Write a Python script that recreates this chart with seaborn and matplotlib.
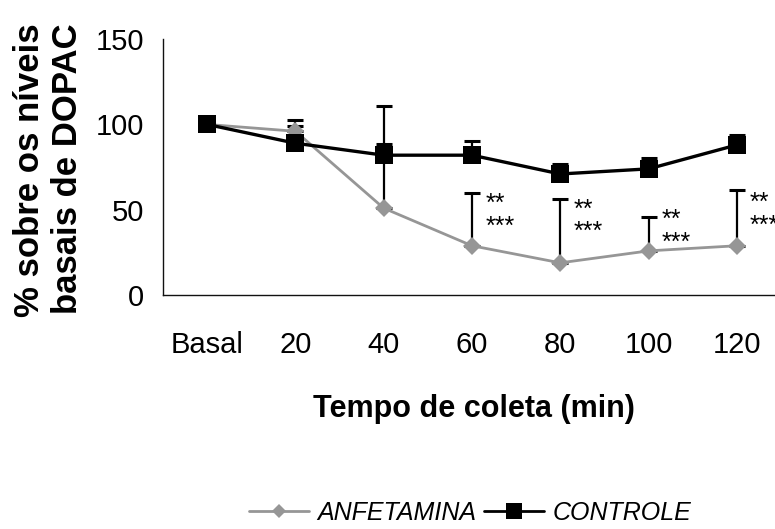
import numpy as np
import pandas as pd
import matplotlib
matplotlib.use("Agg")
import matplotlib.pyplot as plt
from matplotlib.lines import Line2D
import seaborn as sns

# ---- data ----
tempos = ["Basal", "20", "40", "60", "80", "100", "120"]
anfetamina = [100, 96, 51, 29, 19, 26, 29]
anfetamina_err = [0, 6.5, 59.7, 30.6, 37.3, 19.8, 32.4]
controle = [100, 89, 82, 82, 71, 74, 88]
controle_err = [0, 10, 6.5, 8.4, 5.8, 6.3, 5.7]
# significance marks (index of time point, glyph-centre value)
sig_idx = [3, 4, 5, 6]
sig2_y = [57.5, 54, 48.5, 58]
sig3_y = [44, 41, 35, 45]

GRAY = "#969696"
BLACK = "#000000"

sns.set_style("white")
plt.rcParams["font.family"] = ["Liberation Sans", "DejaVu Sans"]
plt.rcParams["text.color"] = "black"
plt.rcParams["xtick.labelcolor"] = "black"
plt.rcParams["ytick.labelcolor"] = "black"

df = pd.DataFrame({
    "tempo": tempos * 2,
    "valor": anfetamina + controle,
    "grupo": ["ANFETAMINA"] * len(tempos) + ["CONTROLE"] * len(tempos),
})

fig = plt.figure(figsize=(7.75, 5.29), dpi=100)
ax = fig.add_axes([163 / 775, 233.7 / 529, (781 - 163) / 775, (490 - 233.7) / 529])

pos = np.arange(len(tempos))

# error bars (upward only)
for vals, errs in ((anfetamina, anfetamina_err), (controle, controle_err)):
    v = np.array(vals, float)
    e = np.array(errs, float)
    m = e > 0
    ax.errorbar(pos[m], v[m], yerr=[np.zeros(m.sum()), e[m]], fmt="none",
                ecolor=BLACK, elinewidth=1.6, capsize=6, capthick=2.2, zorder=2)

sns.lineplot(data=df, x="tempo", y="valor", hue="grupo", style="grupo",
             palette={"ANFETAMINA": GRAY, "CONTROLE": BLACK},
             markers={"ANFETAMINA": "D", "CONTROLE": "s"}, dashes=False,
             sort=False, errorbar=None, legend=False, ax=ax, zorder=3,
             markeredgewidth=0)
for ln in ax.get_lines():
    if ln.get_marker() == "D":
        ln.set_linewidth(2.0)
        ln.set_markersize(9)
        ln.set_zorder(3)
    elif ln.get_marker() == "s":
        ln.set_linewidth(2.4)
        ln.set_markersize(12.5)
        ln.set_zorder(4)

# significance asterisks
for k, i in enumerate(sig_idx):
    ax.text(i + 0.15, sig2_y[k] - 8.2, "**", fontsize=18, va="baseline", ha="left",
            color=BLACK, clip_on=False)
    ax.text(i + 0.15, sig3_y[k] - 8.2, "***", fontsize=18, va="baseline", ha="left",
            color=BLACK, clip_on=False)

ax.set_xlim(-0.5, len(tempos) - 0.5)
ax.set_ylim(0, 150)
ax.set_yticks([0, 50, 100, 150])
ax.set_yticklabels(["0", "50", "100", "150"])
ax.set_xticks(pos)
ax.set_xticklabels(tempos)
ax.set_xticks(np.arange(-0.5, len(tempos), 1), minor=True)
ax.set_xlabel("")
ax.set_ylabel("")

ax.tick_params(axis="x", which="major", length=0, pad=26, labelsize=21, labelcolor="black")
ax.tick_params(axis="x", which="minor", length=7.5, width=1.0, color="#444444", direction="out")
ax.tick_params(axis="y", which="major", length=6.5, width=1.0, color="#444444", direction="out",
               pad=7, labelsize=21, labelcolor="black")
for s in ("top", "right"):
    ax.spines[s].set_visible(False)
for s in ("left", "bottom"):
    ax.spines[s].set_color("#111111")
    ax.spines[s].set_linewidth(1.0)

# axis titles
fig.text(474 / 775, (529 - 416.7) / 529, "Tempo de coleta (min)", fontsize=22,
         fontweight="bold", ha="center", va="baseline", color="black")
fig.text(39 / 775, (529 - 170) / 529, "% sobre os níveis", fontsize=25, fontweight="bold",
         rotation=90, rotation_mode="anchor", ha="center", va="baseline", color="black")
fig.text(77 / 775, (529 - 168.5) / 529, "basais de DOPAC", fontsize=25, fontweight="bold",
         rotation=90, rotation_mode="anchor", ha="center", va="baseline", color="black")

# legend
handles = [
    Line2D([], [], color=GRAY, lw=2.0, marker="D", markersize=7, markeredgewidth=0),
    Line2D([], [], color=BLACK, lw=2.0, marker="s", markersize=11, markeredgewidth=0),
]
fig.legend(handles, ["ANFETAMINA", "CONTROLE"], loc="center",
           bbox_to_anchor=(470 / 775, (529 - 513) / 529), ncol=2, frameon=False,
           prop={"size": 18, "style": "italic"}, handlelength=2.4, handletextpad=0.35,
           columnspacing=0.3, borderpad=0, labelcolor="black")

fig.savefig("out.png", dpi=100)
